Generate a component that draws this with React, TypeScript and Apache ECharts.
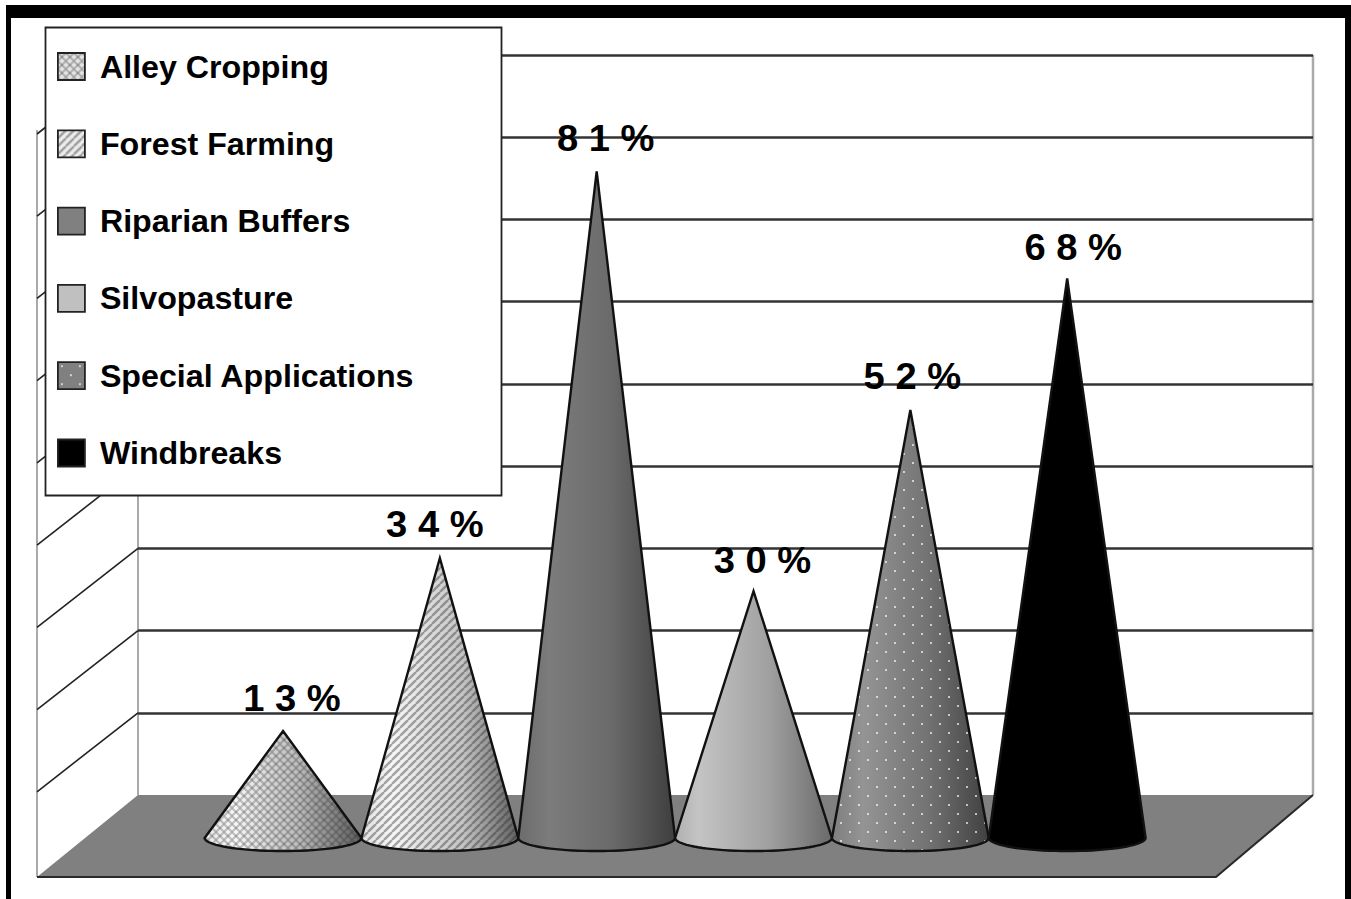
import React, { useEffect, useRef } from "react";
import * as echarts from "echarts";

const categories = ["Alley Cropping", "Forest Farming", "Riparian Buffers", "Silvopasture", "Special Applications", "Windbreaks"];
const shares = [13, 34, 81, 30, 52, 68];
const wallTicks = [10, 20, 30, 40, 50, 60, 70, 80, 90];
const labelShiftX = [9, -5, 9, 9, 2, 6];
const labelShiftY = [33, 34, 33, 31, 34, 31];
const shadeStops: [number, string][][] = [
  [[0, "#e8e8e8"], [0.2, "#f6f6f6"], [0.6, "#bcbcbc"], [1, "#5c5c5c"]],
  [[0, "#e0e0e0"], [0.2, "#f6f6f6"], [0.65, "#c4c4c4"], [1, "#606060"]],
  [[0, "#6c6c6c"], [0.2, "#7c7c7c"], [0.6, "#6a6a6a"], [1, "#3e3e3e"]],
  [[0, "#b0b0b0"], [0.15, "#c4c4c4"], [0.6, "#a0a0a0"], [1, "#6a6a6a"]],
  [[0, "#7e7e7e"], [0.2, "#949494"], [0.6, "#747474"], [1, "#404040"]],
  [[0, "#000000"], [1, "#000000"]],
];
const swatchColors = ["#e4e4e4", "#ececec", "#808080", "#c0c0c0", "#808080", "#000000"];
const patternKinds = ["cross", "stripe", "none", "none", "dots", "none"];

const FONT = '"Liberation Sans", Arial, sans-serif';

function makePattern(kind: string, background?: string) {
  if (kind === "none") return null;
  const size = kind === "dots" ? 18 : 8;
  const c = document.createElement("canvas");
  c.width = size;
  c.height = size;
  const g = c.getContext("2d")!;
  if (background) {
    g.fillStyle = background;
    g.fillRect(0, 0, size, size);
  }
  if (kind === "dots") {
    g.fillStyle = "rgba(255,255,255,0.65)";
    g.fillRect(3, 3, 2, 2);
    g.fillRect(12, 12, 2, 2);
  } else {
    g.strokeStyle = kind === "cross" ? "rgba(50,50,50,0.28)" : "rgba(50,50,50,0.42)";
    g.lineWidth = kind === "cross" ? 2 : 2.4;
    for (let i = -size; i <= size * 2; i += size) {
      g.beginPath();
      g.moveTo(i, size);
      g.lineTo(i + size, 0);
      g.stroke();
      if (kind === "cross") {
        g.beginPath();
        g.moveTo(i, 0);
        g.lineTo(i + size, size);
        g.stroke();
      }
    }
  }
  return { image: c, repeat: "repeat", imageWidth: size, imageHeight: size };
}

export default function App() {
  const ref = useRef<HTMLDivElement>(null);
  useEffect(() => {
    const chart = echarts.init(ref.current!, null, { renderer: "svg" });
    const patterns = patternKinds.map((k) => makePattern(k));
    const swatches = patternKinds.map((k, i) => makePattern(k, swatchColors[i]));

    const renderCone = (idx: number) => (_p: any, api: any) => {
      const value = api.value(1);
      const tip = api.coord([idx, value]);
      const base = api.coord([idx, 0]);
      const r = api.size([1, 0])[0] / 2;
      const ry = r / 6;
      const pts: number[][] = [[tip[0], tip[1]]];
      for (let a = 0; a <= 40; a++) {
        const t = (a / 40) * Math.PI;
        pts.push([base[0] + r * Math.cos(t), base[1] + ry * Math.sin(t)]);
      }
      const children: any[] = [
        {
          type: "polygon",
          shape: { points: pts },
          style: {
            fill: new echarts.graphic.LinearGradient(0, 0, 1, 0, shadeStops[idx].map(([offset, color]) => ({ offset, color }))),
            stroke: "none",
          },
        },
      ];
      if (patterns[idx]) {
        children.push({ type: "polygon", shape: { points: pts }, style: { fill: patterns[idx], stroke: "none" } });
      }
      children.push({ type: "polygon", shape: { points: pts }, style: { fill: "none", stroke: "#111", lineWidth: 2.4 } });
      children.push({
        type: "text",
        x: tip[0] + labelShiftX[idx],
        y: tip[1] - labelShiftY[idx],
        scaleX: 1.06,
        style: {
          text: String(value).split("").join(" ") + " %",
          font: `bold 36px ${FONT}`,
          fill: "#000",
          align: "center",
          verticalAlign: "middle",
        },
      });
      return { type: "group", children };
    };

    const coneSeries = categories.map((name, i) => ({
      type: "custom",
      name,
      xAxisIndex: 1,
      yAxisIndex: 1,
      z: 2,
      clip: false,
      encode: { x: 0, y: 1 },
      data: [[name, shares[i]]],
      renderItem: renderCone(i),
    }));

    const sideWall = {
      type: "custom",
      xAxisIndex: 0,
      yAxisIndex: 0,
      z: 1,
      clip: false,
      silent: true,
      encode: { x: 0, y: 1 },
      data: wallTicks.map((v) => [0, v]),
      renderItem: (_p: any, api: any) => {
        const p = api.coord([0, api.value(1)]);
        return {
          type: "line",
          shape: { x1: p[0], y1: p[1], x2: p[0] - 101, y2: p[1] + 79 },
          style: { stroke: "#222", lineWidth: 1.6 },
        };
      },
    };

    chart.setOption({
      animation: false,
      backgroundColor: "#fff",
      grid: [
        { left: 138, top: 55, width: 1175, height: 740 },
        { left: 204.6, top: 97.3, width: 941, height: 740.7 },
      ],
      xAxis: [
        { type: "value", gridIndex: 0, min: 0, max: 1, show: false },
        { type: "category", gridIndex: 1, data: categories, show: false },
      ],
      yAxis: [
        {
          type: "value",
          gridIndex: 0,
          min: 0,
          max: 90,
          interval: 10,
          axisLine: { show: false },
          axisTick: { show: false },
          axisLabel: { show: false },
          splitLine: { show: true, showMinLine: false, lineStyle: { color: "#333", width: 2.5 } },
        },
        { type: "value", gridIndex: 1, min: 0, max: 90, interval: 10, show: false, splitLine: { show: false } },
      ],
      legend: {
        show: true,
        orient: "vertical",
        left: 57,
        top: 50.5,
        itemWidth: 27,
        itemHeight: 27,
        itemGap: 45.3,
        padding: 0,
        z: 6,
        selectedMode: false,
        icon: "rect",
        textStyle: { fontFamily: FONT, fontWeight: "bold", fontSize: 32.2, color: "#000", padding: [0, 0, 0, 10], lineHeight: 27 },
        data: categories.map((name, i) => ({
          name,
          icon: "rect",
          itemStyle: { color: swatches[i] ?? swatchColors[i], borderColor: "#222", borderWidth: 1.8, decal: "none" },
        })),
      },
      graphic: [
        { type: "rect", z: -1, shape: { x: 6, y: 5, width: 1345, height: 13 }, style: { fill: "#000" } },
        { type: "rect", z: -1, shape: { x: 6, y: 5, width: 5, height: 894 }, style: { fill: "#000" } },
        { type: "rect", z: -1, shape: { x: 1345, y: 5, width: 6, height: 894 }, style: { fill: "#000" } },
        { type: "line", z: -1, shape: { x1: 138, y1: 55, x2: 138, y2: 795 }, style: { stroke: "#aaa", lineWidth: 2 } },
        { type: "line", z: -1, shape: { x1: 1313, y1: 55, x2: 1313, y2: 795 }, style: { stroke: "#aaa", lineWidth: 2.5 } },
        { type: "line", z: -1, shape: { x1: 37, y1: 130, x2: 37, y2: 877 }, style: { stroke: "#aaa", lineWidth: 2 } },
        {
          type: "polygon",
          z: 1,
          shape: { points: [[138, 795], [1313, 795], [1216, 877], [37, 877]] },
          style: { fill: "#808080", stroke: "none" },
        },
        {
          type: "polyline",
          z: 1,
          shape: { points: [[37, 877], [1216, 877], [1313, 795]] },
          style: { fill: "none", stroke: "#2a2a2a", lineWidth: 2 },
        },
        { type: "rect", z: 3, shape: { x: 45.5, y: 27.5, width: 456, height: 468 }, style: { fill: "#fff", stroke: "#222", lineWidth: 1.8 } },
      ],
      series: [sideWall, ...coneSeries],
    } as any);
    return () => chart.dispose();
  }, []);
  return <div ref={ref} style={{ position: "absolute", left: 0, top: 0, width: 1351, height: 899 }} />;
}
